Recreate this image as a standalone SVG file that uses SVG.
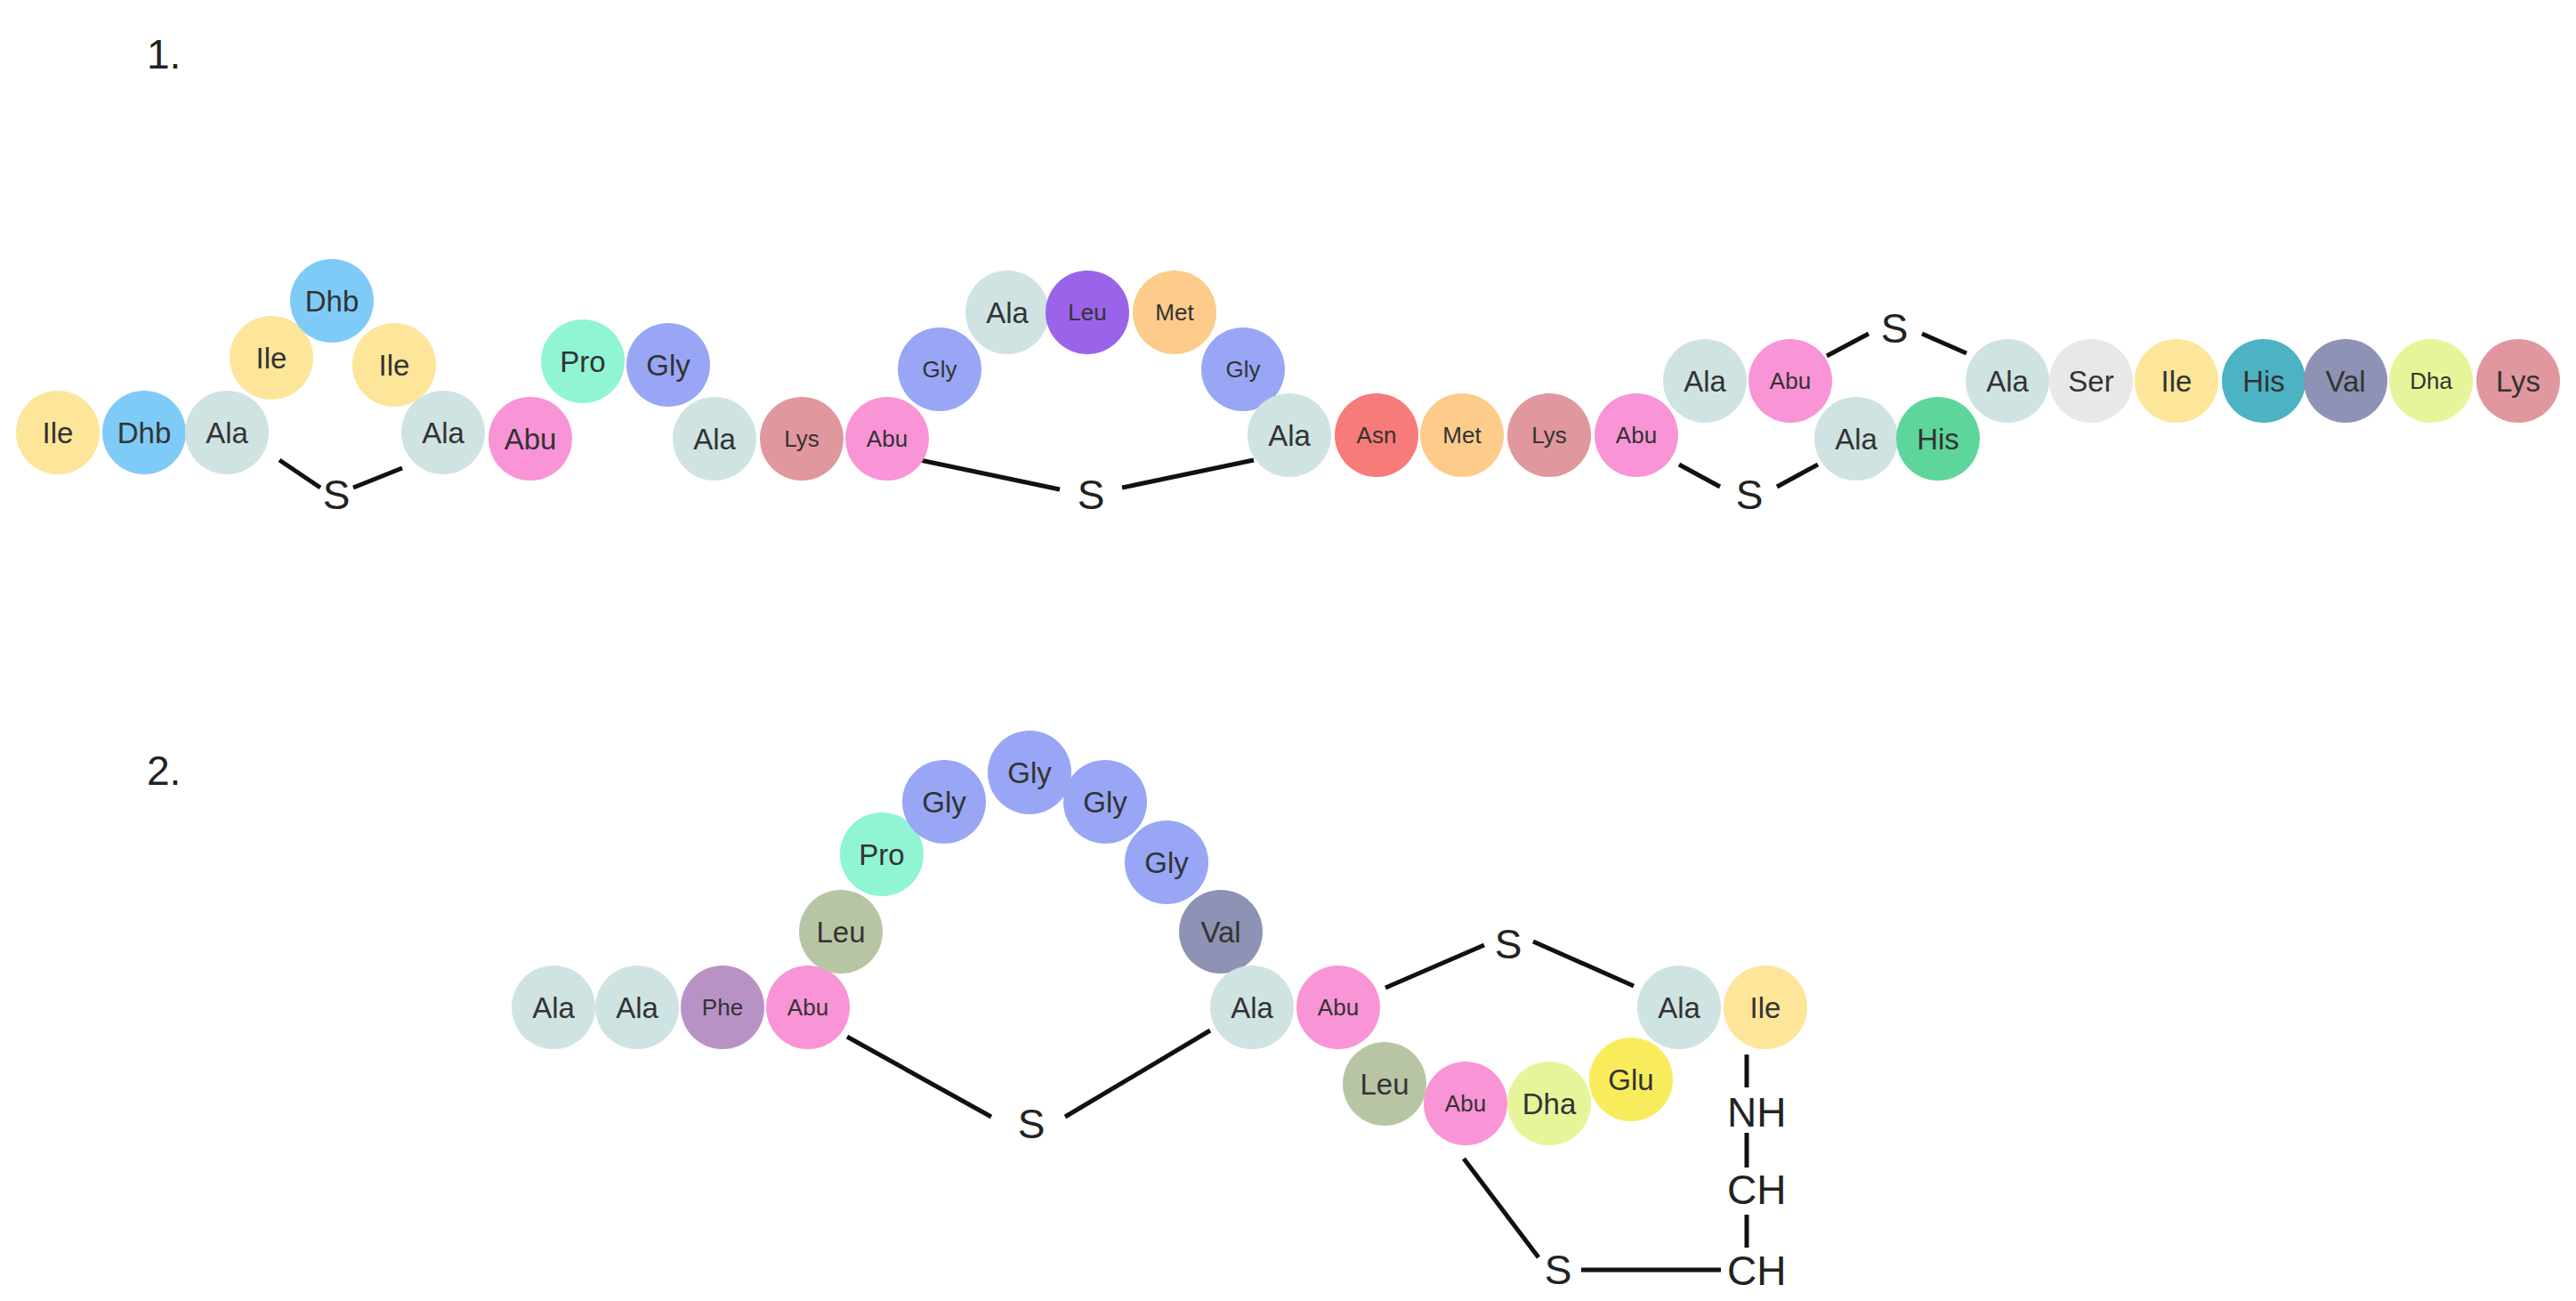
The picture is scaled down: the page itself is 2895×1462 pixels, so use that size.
<svg xmlns="http://www.w3.org/2000/svg" width="2895" height="1462" viewBox="0 0 2895 1462">
<style>
.n{stroke:none}
.t{font-family:"Liberation Sans",Arial,sans-serif;font-size:33px;fill:#333;text-anchor:middle;dominant-baseline:central}
.s{font-size:26px}
.b{stroke:#111;stroke-width:5;fill:none}
.a{font-family:"Liberation Sans",Arial,sans-serif;font-size:46px;fill:#222;text-anchor:middle;dominant-baseline:central}
.h{font-family:"Liberation Sans",Arial,sans-serif;font-size:46px;fill:#222}
.Ile{fill:#fde59a}.Dhb{fill:#7fcbf7}.Ala{fill:#cfe3e3}.Abu{fill:#f994d6}.Pro{fill:#8ff5d3}.Gly{fill:#98a6f5}
.Lys{fill:#e0979d}.LeuP{fill:#9b63ea}.Met{fill:#fdcc8a}.Asn{fill:#f77b78}.Ser{fill:#e8e8e8}.HisT{fill:#4bb3c3}
.Val{fill:#8e92b4}.Dha{fill:#e6f59a}.HisG{fill:#5ed69b}.Phe{fill:#b891c5}.LeuG{fill:#b8c5a5}.Glu{fill:#f8ec5c}
</style>
<rect width="2895" height="1462" fill="#fff"/>
<text class="h" x="165" y="77" font-size="50">1.</text>
<text class="h" x="165" y="882" font-size="50">2.</text>
<g id="connectors">
<line class="b" x1="314" y1="517" x2="360" y2="548"/><line class="b" x1="397" y1="548" x2="452" y2="526"/>
<line class="b" x1="1034" y1="517" x2="1191" y2="550"/><line class="b" x1="1261" y1="548" x2="1409" y2="517"/>
<line class="b" x1="1887" y1="522" x2="1933" y2="547"/><line class="b" x1="1997" y1="547" x2="2043" y2="522"/>
<line class="b" x1="2053" y1="400" x2="2100" y2="375"/><line class="b" x1="2160" y1="375" x2="2210" y2="397"/>
<line class="b" x1="952" y1="1165" x2="1114" y2="1255"/><line class="b" x1="1197" y1="1255" x2="1360" y2="1158"/>
<line class="b" x1="1557" y1="1110" x2="1668" y2="1062"/><line class="b" x1="1723" y1="1058" x2="1836" y2="1108"/>
<line class="b" x1="1645" y1="1302" x2="1729" y2="1413"/><line class="b" x1="1777" y1="1427" x2="1934" y2="1427"/>
<line class="b" x1="1963" y1="1185" x2="1963" y2="1222"/><line class="b" x1="1963" y1="1273" x2="1963" y2="1312"/>
<line class="b" x1="1963" y1="1365" x2="1963" y2="1402"/>
</g>
<g id="sulfurs">
<text class="a" x="378" y="556">S</text><text class="a" x="1226" y="556">S</text>
<text class="a" x="1966" y="556">S</text><text class="a" x="2129" y="369">S</text>
<text class="a" x="1159" y="1263">S</text><text class="a" x="1695" y="1061">S</text>
<text class="a" x="1751" y="1427">S</text>
<text class="h" x="1941" y="1266">NH</text><text class="h" x="1941" y="1353">CH</text><text class="h" x="1941" y="1444">CH</text>
</g>
<g id="n1"><circle class="Ile" cx="65" cy="486" r="47"/><text class="t" x="65" y="486">Ile</text></g>
<g id="n2"><circle class="Dhb" cx="162" cy="486" r="47"/><text class="t" x="162" y="486">Dhb</text></g>
<g id="n3"><circle class="Ala" cx="255" cy="486" r="47"/><text class="t" x="255" y="486">Ala</text></g>
<g id="n4"><circle class="Ile" cx="305" cy="402" r="47"/><text class="t" x="305" y="402">Ile</text></g>
<g id="n5"><circle class="Dhb" cx="373" cy="338" r="47"/><text class="t" x="373" y="338">Dhb</text></g>
<g id="n6"><circle class="Ile" cx="443" cy="410" r="47"/><text class="t" x="443" y="410">Ile</text></g>
<g id="n7"><circle class="Ala" cx="498" cy="486" r="47"/><text class="t" x="498" y="486">Ala</text></g>
<g id="n8"><circle class="Abu" cx="596" cy="493" r="47"/><text class="t" x="596" y="493">Abu</text></g>
<g id="n9"><circle class="Pro" cx="655" cy="406" r="47"/><text class="t" x="655" y="406">Pro</text></g>
<g id="n10"><circle class="Gly" cx="751" cy="410" r="47"/><text class="t" x="751" y="410">Gly</text></g>
<g id="n11"><circle class="Ala" cx="803" cy="493" r="47"/><text class="t" x="803" y="493">Ala</text></g>
<g id="n12"><circle class="Lys" cx="901" cy="493" r="47"/><text class="t s" x="901" y="493">Lys</text></g>
<g id="n13"><circle class="Abu" cx="997" cy="493" r="47"/><text class="t s" x="997" y="493">Abu</text></g>
<g id="n14"><circle class="Gly" cx="1056" cy="415" r="47"/><text class="t s" x="1056" y="415">Gly</text></g>
<g id="n15"><circle class="Ala" cx="1132" cy="351" r="47"/><text class="t" x="1132" y="351">Ala</text></g>
<g id="n16"><circle class="LeuP" cx="1222" cy="351" r="47"/><text class="t s" x="1222" y="351">Leu</text></g>
<g id="n17"><circle class="Met" cx="1320" cy="351" r="47"/><text class="t s" x="1320" y="351">Met</text></g>
<g id="n18"><circle class="Gly" cx="1397" cy="415" r="47"/><text class="t s" x="1397" y="415">Gly</text></g>
<g id="n19"><circle class="Ala" cx="1449" cy="489" r="47"/><text class="t" x="1449" y="489">Ala</text></g>
<g id="n20"><circle class="Asn" cx="1547" cy="489" r="47"/><text class="t s" x="1547" y="489">Asn</text></g>
<g id="n21"><circle class="Met" cx="1643" cy="489" r="47"/><text class="t s" x="1643" y="489">Met</text></g>
<g id="n22"><circle class="Lys" cx="1741" cy="489" r="47"/><text class="t s" x="1741" y="489">Lys</text></g>
<g id="n23"><circle class="Abu" cx="1839" cy="489" r="47"/><text class="t s" x="1839" y="489">Abu</text></g>
<g id="n24"><circle class="Ala" cx="1916" cy="428" r="47"/><text class="t" x="1916" y="428">Ala</text></g>
<g id="n25"><circle class="Abu" cx="2012" cy="428" r="47"/><text class="t s" x="2012" y="428">Abu</text></g>
<g id="n26"><circle class="Ala" cx="2086" cy="493" r="47"/><text class="t" x="2086" y="493">Ala</text></g>
<g id="n27"><circle class="HisG" cx="2178" cy="493" r="47"/><text class="t" x="2178" y="493">His</text></g>
<g id="n28"><circle class="Ala" cx="2256" cy="428" r="47"/><text class="t" x="2256" y="428">Ala</text></g>
<g id="n29"><circle class="Ser" cx="2350" cy="428" r="47"/><text class="t" x="2350" y="428">Ser</text></g>
<g id="n30"><circle class="Ile" cx="2446" cy="428" r="47"/><text class="t" x="2446" y="428">Ile</text></g>
<g id="n31"><circle class="HisT" cx="2544" cy="428" r="47"/><text class="t" x="2544" y="428">His</text></g>
<g id="n32"><circle class="Val" cx="2636" cy="428" r="47"/><text class="t" x="2636" y="428">Val</text></g>
<g id="n33"><circle class="Dha" cx="2732" cy="428" r="47"/><text class="t s" x="2732" y="428">Dha</text></g>
<g id="n34"><circle class="Lys" cx="2830" cy="428" r="47"/><text class="t" x="2830" y="428">Lys</text></g>
<g id="m1"><circle class="Ala" cx="622" cy="1132" r="47"/><text class="t" x="622" y="1132">Ala</text></g>
<g id="m2"><circle class="Ala" cx="716" cy="1132" r="47"/><text class="t" x="716" y="1132">Ala</text></g>
<g id="m3"><circle class="Phe" cx="812" cy="1132" r="47"/><text class="t s" x="812" y="1132">Phe</text></g>
<g id="m4"><circle class="Abu" cx="908" cy="1132" r="47"/><text class="t s" x="908" y="1132">Abu</text></g>
<g id="m5"><circle class="LeuG" cx="945" cy="1047" r="47"/><text class="t" x="945" y="1047">Leu</text></g>
<g id="m6"><circle class="Pro" cx="991" cy="960" r="47"/><text class="t" x="991" y="960">Pro</text></g>
<g id="m7"><circle class="Gly" cx="1061" cy="901" r="47"/><text class="t" x="1061" y="901">Gly</text></g>
<g id="m8"><circle class="Gly" cx="1157" cy="868" r="47"/><text class="t" x="1157" y="868">Gly</text></g>
<g id="m9"><circle class="Gly" cx="1242" cy="901" r="47"/><text class="t" x="1242" y="901">Gly</text></g>
<g id="m10"><circle class="Gly" cx="1311" cy="969" r="47"/><text class="t" x="1311" y="969">Gly</text></g>
<g id="m11"><circle class="Val" cx="1372" cy="1047" r="47"/><text class="t" x="1372" y="1047">Val</text></g>
<g id="m12"><circle class="Ala" cx="1407" cy="1132" r="47"/><text class="t" x="1407" y="1132">Ala</text></g>
<g id="m13"><circle class="Abu" cx="1504" cy="1132" r="47"/><text class="t s" x="1504" y="1132">Abu</text></g>
<g id="m14"><circle class="LeuG" cx="1556" cy="1218" r="47"/><text class="t" x="1556" y="1218">Leu</text></g>
<g id="m15"><circle class="Abu" cx="1647" cy="1240" r="47"/><text class="t s" x="1647" y="1240">Abu</text></g>
<g id="m16"><circle class="Dha" cx="1741" cy="1240" r="47"/><text class="t" x="1741" y="1240">Dha</text></g>
<g id="m17"><circle class="Glu" cx="1833" cy="1213" r="47"/><text class="t" x="1833" y="1213">Glu</text></g>
<g id="m18"><circle class="Ala" cx="1887" cy="1132" r="47"/><text class="t" x="1887" y="1132">Ala</text></g>
<g id="m19"><circle class="Ile" cx="1984" cy="1132" r="47"/><text class="t" x="1984" y="1132">Ile</text></g>
</svg>
